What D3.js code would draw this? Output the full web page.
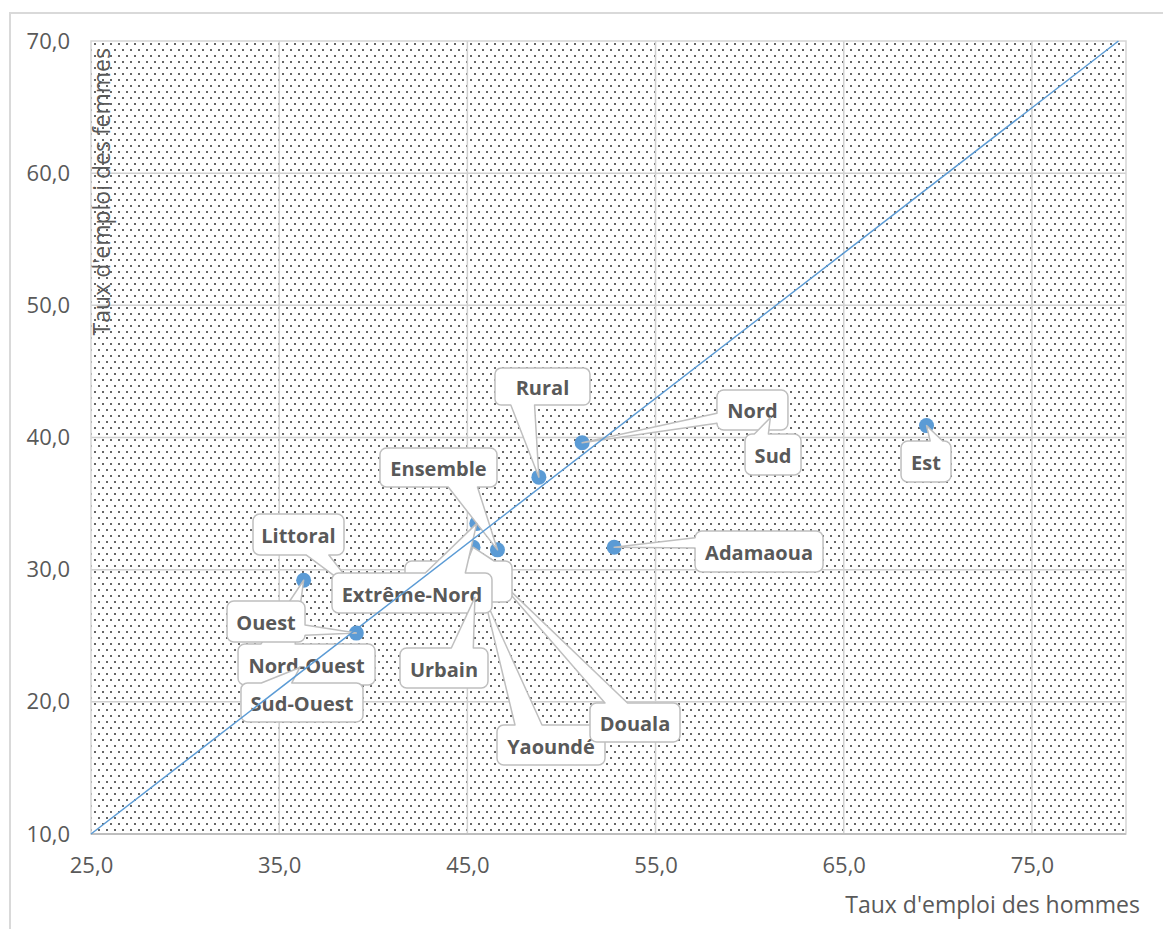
<!DOCTYPE html>
<html>
<head>
<meta charset="utf-8">
<script src="https://cdn.jsdelivr.net/npm/d3@7"></script>
<style>
  body { margin: 0; background: #fff; }
  svg { display: block; }
  .tick text { font-family: "Open Sans", sans-serif; font-size: 22px; fill: #595959; }
  .title { font-family: "Open Sans", sans-serif; font-size: 23px; fill: #595959; }
  .lbl { font-family: "Open Sans", sans-serif; font-size: 20px; font-weight: bold; fill: #595959; }
</style>
</head>
<body>
<svg width="1163" height="929"></svg>
<script>
// data (hommes = x, femmes = y)
var names   = ["Est", "Nord", "Sud", "Rural", "Adamaoua", "Ensemble", "Littoral", "Yaoundé",
               "Douala", "Centre", "Extrême-Nord", "Urbain", "Nord-Ouest", "Ouest", "Sud-Ouest"];
var hommes  = [69.4, 51.1, 61.1, 48.8, 52.8, 46.6, 39.3, 45.9, 46.4, 45.3, 45.5, 45.4, 36.3, 39.1, 36.1];
var femmes  = [40.9, 39.6, 41.5, 37.0, 31.7, 31.5, 28.1, 27.9, 29.6, 31.7, 33.5, 27.9, 29.2, 25.2, 22.6];
var xTicks  = [25, 35, 45, 55, 65, 75];
var yTicks  = [10, 20, 30, 40, 50, 60, 70];
var lineX   = [25, 79.6];
var lineY   = [10, 70];

// callout boxes: [dx, dy, w, h] relative to the point
var boxes = {
    "Est": [-25.5, 15.4, 50, 41],
    "Nord": [134.8, -52.8, 71, 40],
    "Sud": [-25.3, 16.3, 56, 41],
    "Rural": [-43.9, -109.1, 95, 37],
    "Adamaoua": [80.9, -16.2, 128, 41],
    "Ensemble": [-117.5, -101.8, 117, 39],
    "Littoral": [-107.1, -80.8, 91, 41],
    "Yaoundé": [12.7, 127.6, 108, 40],
    "Douala": [96.3, 128, 90, 39],
    "Centre": [-68, 13.8, 107, 41],
    "Extrême-Nord": [-144.8, 49.6, 160, 40],
    "Urbain": [-74.9, 50.6, 88, 40],
    "Nord-Ouest": [-65.6, 63.8, 137, 41],
    "Ouest": [-129.3, -32.1, 78, 41],
    "Sud-Ouest": [-58.9, 15.5, 122, 39]
};

var svg = d3.select("svg");
var plotL = 91, plotR = 1126, plotT = 41, plotB = 834;

var x = d3.scaleLinear().domain([25, 80]).range([plotL, plotR]);
var y = d3.scaleLinear().domain([10, 70]).range([plotB, plotT]);
var fmt = function(d){ return d.toFixed(1).replace(".", ","); };

// outer chart border
svg.append("rect")
    .attr("x", 10).attr("y", 13).attr("width", 1170).attr("height", 940)
    .style("fill", "#fff").style("stroke", "#d9d9d9").style("stroke-width", 2);

// dotted fill of the plot area
var defs = svg.append("defs");
var pat = defs.append("pattern").attr("id", "dots")
    .attr("patternUnits", "userSpaceOnUse")
    .attr("x", plotL).attr("y", plotT)
    .attr("width", 8).attr("height", 12);
pat.append("rect").attr("width", 8).attr("height", 12).style("fill", "#fff");
pat.append("rect").attr("x", 3).attr("y", 2).attr("width", 2).attr("height", 2).style("fill", "#666");
pat.append("rect").attr("x", 7).attr("y", 8).attr("width", 2).attr("height", 2).style("fill", "#666");
pat.append("rect").attr("x", -1).attr("y", 8).attr("width", 2).attr("height", 2).style("fill", "#666");

svg.append("rect")
    .attr("x", plotL).attr("y", plotT)
    .attr("width", plotR - plotL).attr("height", plotB - plotT)
    .style("fill", "url(#dots)");

// gridlines
var grid = svg.append("g");
grid.selectAll(".gx")
    .data(xTicks.filter(function(d){ return d > 25; }))
    .enter().append("line")
    .attr("x1", function(d){ return x(d); }).attr("x2", function(d){ return x(d); })
    .attr("y1", plotT).attr("y2", plotB)
    .style("stroke", "#d0d0d0").style("stroke-width", 1.5);
grid.selectAll(".gy")
    .data(yTicks.filter(function(d){ return d > 10 && d < 70; }))
    .enter().append("line")
    .attr("y1", function(d){ return y(d); }).attr("y2", function(d){ return y(d); })
    .attr("x1", plotL).attr("x2", plotR)
    .style("stroke", "#d0d0d0").style("stroke-width", 1.5);

// plot frame and x axis line
svg.append("rect")
    .attr("x", plotL).attr("y", plotT)
    .attr("width", plotR - plotL).attr("height", plotB - plotT)
    .style("fill", "none").style("stroke", "#d5d5d5").style("stroke-width", 1.5);
svg.append("line")
    .attr("x1", plotL).attr("x2", plotR).attr("y1", plotB).attr("y2", plotB)
    .style("stroke", "#bfbfbf").style("stroke-width", 2);

// axes
var axX = svg.append("g").attr("transform", "translate(0," + plotB + ")")
    .call(d3.axisBottom(x).tickValues(xTicks).tickFormat(fmt).tickSize(0).tickPadding(23));
axX.select(".domain").remove();
var axY = svg.append("g").attr("transform", "translate(" + plotL + ",0)")
    .call(d3.axisLeft(y).tickValues(yTicks).tickFormat(fmt).tickSize(0).tickPadding(21));
axY.select(".domain").remove();

svg.append("text").attr("class", "title")
    .attr("x", 1140).attr("y", 913)
    .attr("text-anchor", "end")
    .text("Taux d'emploi des hommes");
svg.append("text").attr("class", "title")
    .attr("transform", "translate(110,48) rotate(-90)")
    .attr("text-anchor", "end")
    .text("Taux d'emploi des femmes");

// points
var pts = names.map(function(n, i){
    return { name: n, hx: hommes[i], fy: femmes[i] };
});

svg.append("g").selectAll("circle")
    .data(pts)
    .enter().append("circle")
    .attr("cx", function(d){ return x(d.hx); })
    .attr("cy", function(d){ return y(d.fy); })
    .attr("r", 7.5)
    .style("fill", "#5b9bd5");

// excel style wedge round rect callout
function callout(l, t, w, h, xPos, yPos) {
    var r = l + w, b = t + h, hc = l + w / 2, vc = t + h / 2;
    var dxPos = xPos - hc, dyPos = yPos - vc;
    var dq = dxPos * h / w;
    var dz = Math.abs(dyPos) - Math.abs(dq);
    var x1 = l + w * (dxPos > 0 ? 7 : 2) / 12, x2 = l + w * (dxPos > 0 ? 10 : 5) / 12;
    var y1 = t + h * (dyPos > 0 ? 7 : 2) / 12, y2 = t + h * (dyPos > 0 ? 10 : 5) / 12;
    var xl = dz > 0 ? l : (dxPos > 0 ? l : xPos);
    var xt = dz > 0 ? (dyPos > 0 ? x1 : xPos) : x1;
    var xr = dz > 0 ? r : (dxPos > 0 ? xPos : r);
    var xb = dz > 0 ? (dyPos > 0 ? xPos : x1) : x1;
    var yl = dz > 0 ? y1 : (dxPos > 0 ? y1 : yPos);
    var yt = dz > 0 ? (dyPos > 0 ? t : yPos) : t;
    var yr = dz > 0 ? y1 : (dxPos > 0 ? yPos : y1);
    var yb = dz > 0 ? (dyPos > 0 ? yPos : b) : b;
    var a = Math.min(w, h) * 0.16667;
    return "M" + l + "," + (t + a) +
        "A" + a + "," + a + " 0 0 1 " + (l + a) + "," + t +
        "L" + x1 + "," + t + "L" + xt + "," + yt + "L" + x2 + "," + t +
        "L" + (r - a) + "," + t +
        "A" + a + "," + a + " 0 0 1 " + r + "," + (t + a) +
        "L" + r + "," + y1 + "L" + xr + "," + yr + "L" + r + "," + y2 +
        "L" + r + "," + (b - a) +
        "A" + a + "," + a + " 0 0 1 " + (r - a) + "," + b +
        "L" + x2 + "," + b + "L" + xb + "," + yb + "L" + x1 + "," + b +
        "L" + (l + a) + "," + b +
        "A" + a + "," + a + " 0 0 1 " + l + "," + (b - a) +
        "L" + l + "," + y2 + "L" + xl + "," + yl + "L" + l + "," + y1 + "Z";
}

var labels = svg.append("g").selectAll("g")
    .data(pts)
    .enter().append("g");

labels.append("path")
    .attr("d", function(d){
        var px = x(d.hx), py = y(d.fy), bx = boxes[d.name];
        return callout(px + bx[0], py + bx[1], bx[2], bx[3], px, py);
    })
    .style("fill", "#fff")
    .style("stroke", "#bfbfbf")
    .style("stroke-width", 1.5)
    .style("stroke-linejoin", "round");

labels.append("text").attr("class", "lbl")
    .attr("x", function(d){ var bx = boxes[d.name]; return x(d.hx) + bx[0] + bx[2] / 2; })
    .attr("y", function(d){ var bx = boxes[d.name]; return y(d.fy) + bx[1] + bx[3] / 2 + 1; })
    .attr("text-anchor", "middle")
    .attr("dominant-baseline", "central")
    .text(function(d){ return d.name; });

// reference line
svg.append("line")
    .attr("x1", x(lineX[0])).attr("y1", y(lineY[0]))
    .attr("x2", x(lineX[1])).attr("y2", y(lineY[1]))
    .style("stroke", "#5b9bd5").style("stroke-width", 1.5);
</script>
</body>
</html>
